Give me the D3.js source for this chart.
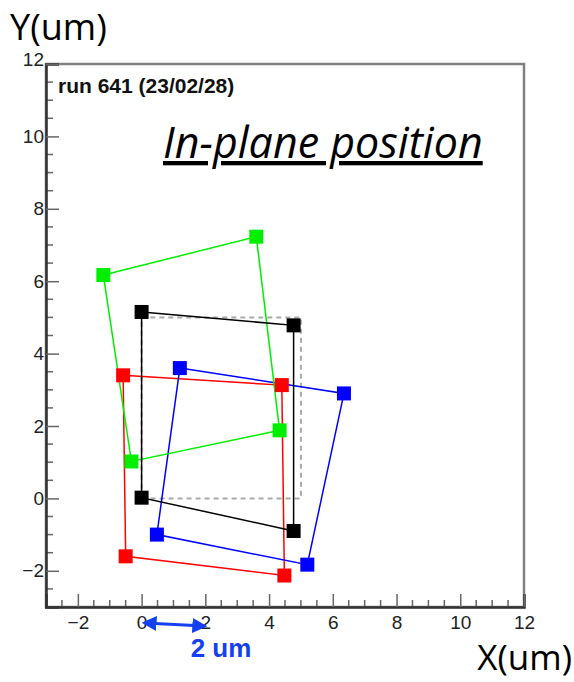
<!DOCTYPE html>
<meta charset='utf-8'>
<style>
	body { margin: 0; background: #fff; }
	svg { display: block; }
</style>
<body>
	<div id='container'></div>
<script src='https://d3js.org/d3.v7.min.js'></script>
<script>
	// measured corner positions (um), in drawing order TL, TR, BR, BL
	const blackX = [0, 4.77, 4.77, 0];
	const blackY = [5.15, 4.78, -0.9, 0.02];
	const redX = [-0.58, 4.4, 4.48, -0.5];
	const redY = [3.4, 3.13, -2.13, -1.6];
	const greenX = [-1.2, 3.6, 4.33, -0.32];
	const greenY = [6.17, 7.23, 1.88, 1.02];
	const blueX = [1.2, 6.35, 5.2, 0.48];
	const blueY = [3.6, 2.9, -1.83, -1.0];
	const nominalX = [0, 5, 5, 0];
	const nominalY = [0, 0, 5, 5];
	const xTicks = [-2, 0, 2, 4, 6, 8, 10, 12];
	const yTicks = [-2, 0, 2, 4, 6, 8, 10, 12];

	const width = 574, height = 682;
	const frame = { left: 46, right: 524, top: 64, bottom: 607 };
	const axisFont = 'Liberation Sans, Arial, sans-serif';
	const fmt = d => d < 0 ? '\u2212' + Math.abs( d ) : d;

	const x = d3.scaleLinear().domain( [-3, 12] ).range( [frame.left, frame.right] );
	const y = d3.scaleLinear().domain( [-3, 12] ).range( [frame.bottom, frame.top] );

	const svg = d3.select( '#container' ).append( 'svg' )
		.attr( 'width', width )
		.attr( 'height', height );

	// frame
	svg.append( 'rect' )
		.attr( 'x', frame.left ).attr( 'y', frame.top )
		.attr( 'width', frame.right - frame.left )
		.attr( 'height', frame.bottom - frame.top )
		.attr( 'fill', 'none' )
		.attr( 'stroke', '#808080' )
		.attr( 'stroke-width', 2.5 );

	// minor ticks every 0.5
	const minor = d3.range( -2.5, 12, 0.5 ).filter( v => v % 2 !== 0 );
	svg.append( 'g' ).selectAll( 'line' ).data( minor ).join( 'line' )
		.attr( 'x1', d => x( d ) ).attr( 'x2', d => x( d ) )
		.attr( 'y1', frame.bottom ).attr( 'y2', frame.bottom - 7 )
		.attr( 'stroke', '#666' ).attr( 'stroke-width', 1.5 );
	svg.append( 'g' ).selectAll( 'line' ).data( minor ).join( 'line' )
		.attr( 'y1', d => y( d ) ).attr( 'y2', d => y( d ) )
		.attr( 'x1', frame.left ).attr( 'x2', frame.left + 7 )
		.attr( 'stroke', '#666' ).attr( 'stroke-width', 1.5 );

	const xAxis = d3.axisTop( x ).tickValues( xTicks ).tickSize( 13 ).tickFormat( fmt );
	const yAxis = d3.axisRight( y ).tickValues( yTicks ).tickSize( 13 ).tickFormat( fmt );

	const xAxisEl = svg.append( 'g' )
		.attr( 'transform', `translate( 0, ${frame.bottom} )` )
		.call( xAxis );
	xAxisEl.attr( 'font-size', 19 ).attr( 'font-family', axisFont );
	xAxisEl.select( '.domain' ).attr( 'stroke', '#333' ).attr( 'stroke-width', 2.5 );
	xAxisEl.selectAll( '.tick line' ).attr( 'stroke', '#666' ).attr( 'stroke-width', 1.5 );
	xAxisEl.selectAll( '.tick text' ).attr( 'y', 9 ).attr( 'dy', '0.71em' ).attr( 'fill', '#222' )
		.style( 'font-size', '19px' );

	const yAxisEl = svg.append( 'g' )
		.attr( 'transform', `translate( ${frame.left}, 0 )` )
		.call( yAxis );
	yAxisEl.attr( 'font-size', 19 ).attr( 'font-family', axisFont );
	yAxisEl.select( '.domain' ).attr( 'stroke', '#333' ).attr( 'stroke-width', 2.5 );
	yAxisEl.selectAll( '.tick line' ).attr( 'stroke', '#666' ).attr( 'stroke-width', 1.5 );
	yAxisEl.selectAll( '.tick text' ).attr( 'x', -2 ).attr( 'text-anchor', 'end' ).attr( 'fill', '#222' )
		.style( 'font-size', '19px' );
	yAxisEl.select( '.tick:last-of-type text' ).attr( 'dy', '0.1em' );

	// nominal 5x5 square
	const line = d3.line().x( d => x( d[0] ) ).y( d => y( d[1] ) );
	const nominal = nominalX.map( ( v, i ) => [v, nominalY[i]] );
	svg.append( 'path' )
		.attr( 'd', line( nominal ) + 'Z' )
		.attr( 'fill', 'none' )
		.attr( 'stroke', '#aaa' )
		.attr( 'stroke-width', 2 )
		.attr( 'stroke-dasharray', '5,4' );

	const series = [
		{ xs: blackX, ys: blackY, color: '#000' },
		{ xs: redX, ys: redY, color: '#ff0000' },
		{ xs: greenX, ys: greenY, color: '#00ee00' },
		{ xs: blueX, ys: blueY, color: '#0000ff' },
	];

	const order = [1, 3, 2, 0];
	order.forEach( k => {
		const s = series[k];
		const pts = s.xs.map( ( v, i ) => [v, s.ys[i]] );
		svg.append( 'path' )
			.attr( 'd', line( pts.concat( [pts[0]] ) ) )
			.attr( 'fill', 'none' )
			.attr( 'stroke', s.color )
			.attr( 'stroke-width', 1.5 );
	} );
	order.forEach( k => {
		const s = series[k];
		const pts = s.xs.map( ( v, i ) => [v, s.ys[i]] );
		svg.append( 'g' ).selectAll( 'rect' ).data( pts ).join( 'rect' )
			.attr( 'x', d => x( d[0] ) - 7 )
			.attr( 'y', d => y( d[1] ) - 7 )
			.attr( 'width', 14 ).attr( 'height', 14 )
			.attr( 'fill', s.color );
	} );

	// texts
	svg.append( 'text' )
		.attr( 'x', 58 ).attr( 'y', 93 )
		.attr( 'font-family', axisFont )
		.attr( 'font-weight', 'bold' )
		.attr( 'font-size', 21 )
		.attr( 'fill', '#111' )
		.text( 'run 641 (23/02/28)' );

	svg.append( 'text' )
		.attr( 'x', 163 ).attr( 'y', 158 )
		.attr( 'font-family', 'Open Sans, sans-serif' )
		.attr( 'font-style', 'italic' )
		.attr( 'font-size', 43 )
		.attr( 'text-decoration', 'underline' )
		.attr( 'fill', '#000' )
		.text( 'In-plane position' );

	svg.append( 'text' )
		.attr( 'x', 10 ).attr( 'y', 40 )
		.attr( 'font-family', 'Open Sans, sans-serif' )
		.attr( 'font-size', 36 )
		.attr( 'fill', '#000' )
		.text( 'Y(um)' );

	svg.append( 'text' )
		.attr( 'x', 572 ).attr( 'y', 670 )
		.attr( 'text-anchor', 'end' )
		.attr( 'font-family', 'Open Sans, sans-serif' )
		.attr( 'font-size', 35 )
		.attr( 'fill', '#000' )
		.text( 'X(um)' );

	// 2 um scale arrow
	const defs = svg.append( 'defs' );
	defs.append( 'marker' )
		.attr( 'id', 'head' )
		.attr( 'viewBox', '0 0 10 10' )
		.attr( 'refX', 8 ).attr( 'refY', 5 )
		.attr( 'markerWidth', 5 ).attr( 'markerHeight', 5 )
		.attr( 'orient', 'auto-start-reverse' )
		.append( 'path' )
			.attr( 'd', 'M0,0 L10,5 L0,10 Z' )
			.attr( 'fill', '#1440f0' );

	svg.append( 'line' )
		.attr( 'x1', x( 0 ) + 3 ).attr( 'y1', 623 )
		.attr( 'x2', x( 2 ) - 1 ).attr( 'y2', 626 )
		.attr( 'stroke', '#1440f0' )
		.attr( 'stroke-width', 3 )
		.attr( 'marker-start', 'url(#head)' )
		.attr( 'marker-end', 'url(#head)' );

	svg.append( 'text' )
		.attr( 'x', 221 ).attr( 'y', 657 )
		.attr( 'text-anchor', 'middle' )
		.attr( 'font-family', axisFont )
		.attr( 'font-weight', 'bold' )
		.attr( 'font-size', 26 )
		.attr( 'fill', '#1440f0' )
		.text( '2 um' );
</script>
</body>
